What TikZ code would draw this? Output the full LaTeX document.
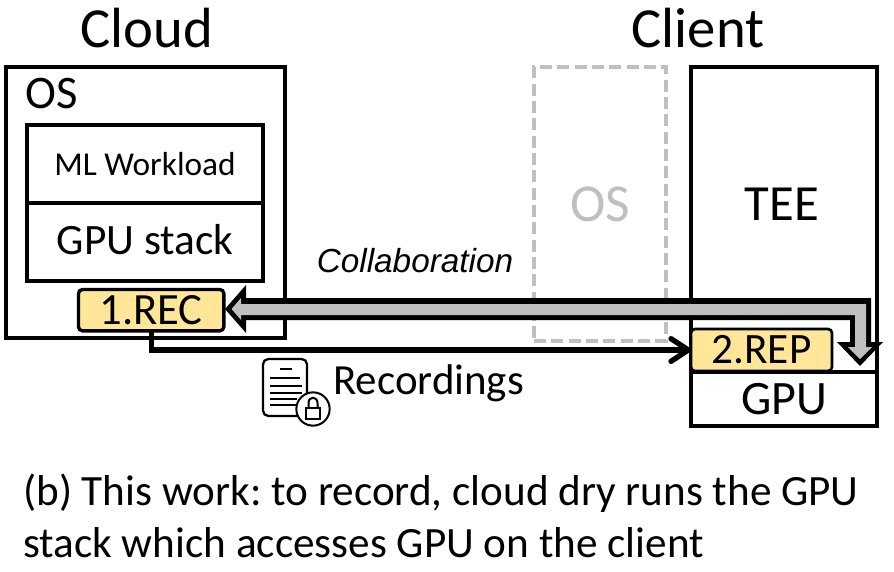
\documentclass[tikz,border=0pt]{standalone}
\usepackage{fontspec}
\setmainfont{Carlito}
\newfontfamily\arialf{Liberation Sans}
\usetikzlibrary{arrows.meta,calc}
\definecolor{recfill}{HTML}{FFE699}
\definecolor{flow}{HTML}{BFBFBF}
\definecolor{ghost}{HTML}{BFBFBF}
\tikzset{
  px/.style={x=0.75pt,y=-0.75pt},
  box/.style={draw=black,line width=2.3pt,fill=white,inner sep=0pt,outer sep=0pt,anchor=north west},
  tagbox/.style={draw=black,line width=2.5pt,fill=recfill,rounded corners=3pt,inner sep=0pt,outer sep=0pt,anchor=north west},
  txt/.style={inner sep=0pt,text=black},
}
\newcommand{\fsz}[1]{\fontsize{#1}{#1}\selectfont}
\frenchspacing
\begin{document}
\begin{tikzpicture}[px]
\useasboundingbox (0,0) rectangle (894,572);
\fill[white] (0,0) rectangle (894,572);
% boxes
\node[box,minimum width=209.25pt,minimum height=203.25pt] (os) at (6,67) {};
\node[box,minimum width=177pt,minimum height=58.5pt] (ml) at (27,125) {};
\node[box,minimum width=177pt,minimum height=58.5pt] (stack) at (27,203) {};
\node[box,draw=ghost,line width=3.2pt,dash pattern=on 9pt off 4pt,minimum width=99pt,minimum height=205.5pt,fill=none] (gos) at (534,67) {};
\node[box,minimum width=139.5pt,minimum height=228.75pt] (tee) at (691,67) {};
\node[box,minimum width=139.5pt,minimum height=40.5pt] (gpu) at (691,372) {};
% collaboration block arrow: black outline, grey core
\fill[black] (225,309) -- (246,285) -- (246,298) -- (871,298) -- (871,342) -- (883,342)
  -- (860,366) -- (837,342) -- (850,342) -- (850,320) -- (246,320) -- (246,333) -- cycle;
\fill[flow] (231.6,309) -- (241,298) -- (241,304) -- (866,304) -- (866,347) -- (872,347)
  -- (860,359) -- (848,347) -- (855,347) -- (855,315) -- (241,315) -- (241,320) -- cycle;
% tags
\node[tagbox,minimum width=109pt,minimum height=31pt] (rec) at (78.5,289.5) {};
\node[tagbox,line width=2pt,minimum width=105.75pt,minimum height=31.5pt] (rep) at (691,329) {};
% recordings connector
\draw[line width=4pt,-{Straight Barb[length=13pt,width=17pt,line width=4pt,round]}] (rec.south) |- (rep.west);
% labels
\node[txt] (lcloud) at (147,28) {\fsz{42.5}Cloud};
\node[txt] (lclient) at (698,28) {\fsz{42.5}Client};
\node[txt] (los) at (52,94) {\fsz{35}OS};
\node[txt] at (ml.center) {\fsz{25}ML Workload};
\node[txt] at ($(stack.center)+(0,-2)$) {\fsz{32.5}GPU stack};
\node[txt,text=ghost] at (gos.center) {\fsz{40}OS};
\node[txt] at (782,204) {\fsz{38}TEE};
\node[txt] at (rec.center) {\fsz{33.5}1.REC};
\node[txt] at (rep.center) {\fsz{32.5}2.REP};
\node[txt] at (gpu.center) {\fsz{36}GPU};
\node[txt] (lcol) at (415,261) {\arialf\itshape\fsz{25}Collaboration};
\node[txt,anchor=west] (lrec) at (333,383) {\fsz{32.2}Recordings};
\node[txt,anchor=base west] (c1) at (23,505) {\fsz{32.4}(b) This work: to record, cloud dry runs the GPU};
\node[txt,anchor=base west] (c2) at (23,557) {\fsz{32.4}stack which accesses GPU on the client};
% icon
\draw[line width=1.7pt,rounded corners=4pt] (263,359) rectangle (307,416);
\draw[line width=1.7pt] (280,369) -- (292,369);
\foreach \yy/\xe in {378/300,386/302,393/302,399/297,405/297}
  \draw[line width=1.6pt] (270,\yy) -- (\xe,\yy);
\draw[line width=1.5pt,fill=white] (313,409) circle (12.5pt);
\draw[line width=1.5pt] (306,408) rectangle (320,419);
\draw[line width=1.5pt] (308.5,408) -- (308.5,403) .. controls (308.5,396) and (317.5,396) .. (317.5,403) -- (317.5,408);
\end{tikzpicture}
\end{document}
